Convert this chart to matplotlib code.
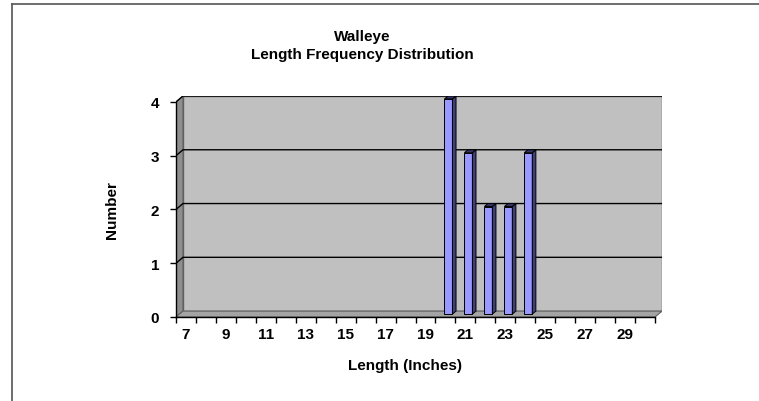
import matplotlib
matplotlib.use("Agg")
import matplotlib.pyplot as plt
from matplotlib.patches import Polygon, Rectangle
from matplotlib.lines import Line2D

# data
lengths = [7, 8, 9, 10, 11, 12, 13, 14, 15, 16, 17, 18, 19,
           20, 21, 22, 23, 24, 25, 26, 27, 28, 29, 30]
counts = [0, 0, 0, 0, 0, 0, 0, 0, 0, 0, 0, 0, 0,
          4, 3, 2, 2, 3, 0, 0, 0, 0, 0, 0]
y_ticks = [0, 1, 2, 3, 4]

plt.rcParams['font.family'] = ['Liberation Sans', 'DejaVu Sans']
plt.rcParams['font.weight'] = 'bold'

W, H = 759, 402
fig = plt.figure(figsize=(W / 100, H / 100), dpi=100)

# axes box: front-left-bottom corner to back-right-top corner
x0, x1, y0, y1 = 176, 662, 97, 318
ax = fig.add_axes([x0 / W, 1 - y1 / H, (x1 - x0) / W, (y1 - y0) / H])
ax.set_facecolor('none')

n = len(lengths)
ymax = y_ticks[-1]
dx, dy = 0.35, 0.11   # wall depth in data units
ax.set_xlim(0, n + dx)
ax.set_ylim(0, ymax + dy)

# walls
back = Rectangle((dx, dy), n, ymax, facecolor='#C0C0C0', edgecolor='#606060', lw=1, zorder=0)
ax.add_patch(back)
side = Polygon([(0, 0), (dx, dy), (dx, ymax + dy), (0, ymax)], closed=True,
               facecolor='#8E8E8E', edgecolor='#606060', lw=0.8, zorder=1)
ax.add_patch(side)
floor = Polygon([(0, 0), (n, 0), (n + dx, dy), (dx, dy)], closed=True,
                facecolor='#A4A4A4', edgecolor='#606060', lw=0.8, zorder=1)
ax.add_patch(floor)

# gridlines on side and back wall
for v in y_ticks[1:]:
    ax.plot([0, dx, n + dx], [v, v + dy, v + dy], color='black', lw=1.0, zorder=2)

# 3d columns
bw = 0.4
off = 0.45
bdx, bdy = 0.18, 0.055
base = dy / 2
for i, c in enumerate(counts):
    if c == 0:
        continue
    xl = i + off
    xr = xl + bw
    top = c + base
    ax.bar(xl, c, width=bw, bottom=base, align='edge', color='#9999FF',
           edgecolor='black', lw=0.7, zorder=4)
    ax.add_patch(Polygon([(xr, base), (xr + bdx, base + bdy), (xr + bdx, top + bdy), (xr, top)],
                         closed=True, facecolor='#3F3F7A', edgecolor='black', lw=0.7, zorder=4))
    ax.add_patch(Polygon([(xl, top), (xr, top), (xr + bdx, top + bdy), (xl + bdx, top + bdy)],
                         closed=True, facecolor='#333366', edgecolor='black', lw=0.7, zorder=4))

# axes lines and ticks
for s in ['top', 'right']:
    ax.spines[s].set_visible(False)
ax.spines['bottom'].set_bounds(0, n)
ax.spines['left'].set_bounds(0, ymax)
for s in ['bottom', 'left']:
    ax.spines[s].set_color('black')
    ax.spines[s].set_linewidth(1)
    ax.spines[s].set_zorder(5)

ax.set_xticks(range(n + 1))
ax.set_xticklabels([])
ax.set_xticks([i + 0.5 for i in range(0, n, 2)], minor=True)
ax.set_xticklabels([str(lengths[i]) for i in range(0, n, 2)], minor=True)
ax.tick_params(axis='x', which='major', length=4, width=1, direction='out')
ax.tick_params(axis='x', which='minor', length=0, pad=7, labelsize=11)
ax.set_yticks(y_ticks)
ax.set_yticklabels([str(v) for v in y_ticks])
ax.tick_params(axis='y', length=4, width=1, direction='out', pad=8, labelsize=11)

# titles
fig.text(362 / W, 1 - 37 / H, 'Walleye', ha='center', va='center', fontsize=11, fontweight='bold')
fig.text(362 / W, 1 - 55 / H, 'Length Frequency Distribution', ha='center', va='center',
         fontsize=11, fontweight='bold')
fig.text(405 / W, 1 - 366 / H, 'Length (Inches)', ha='center', va='center', fontsize=11,
         fontweight='bold')
fig.text(112 / W, 1 - 210 / H, 'Number', ha='center', va='center', rotation=90, fontsize=11,
         fontweight='bold')

# chart frame
fig.add_artist(Line2D([12 / W, 12 / W], [0, 1 - 5 / H], color='#555555', lw=1.2))
fig.add_artist(Line2D([12 / W, 1], [1 - 5 / H, 1 - 5 / H], color='#555555', lw=1.2))

fig.savefig('out.png', dpi=100)
